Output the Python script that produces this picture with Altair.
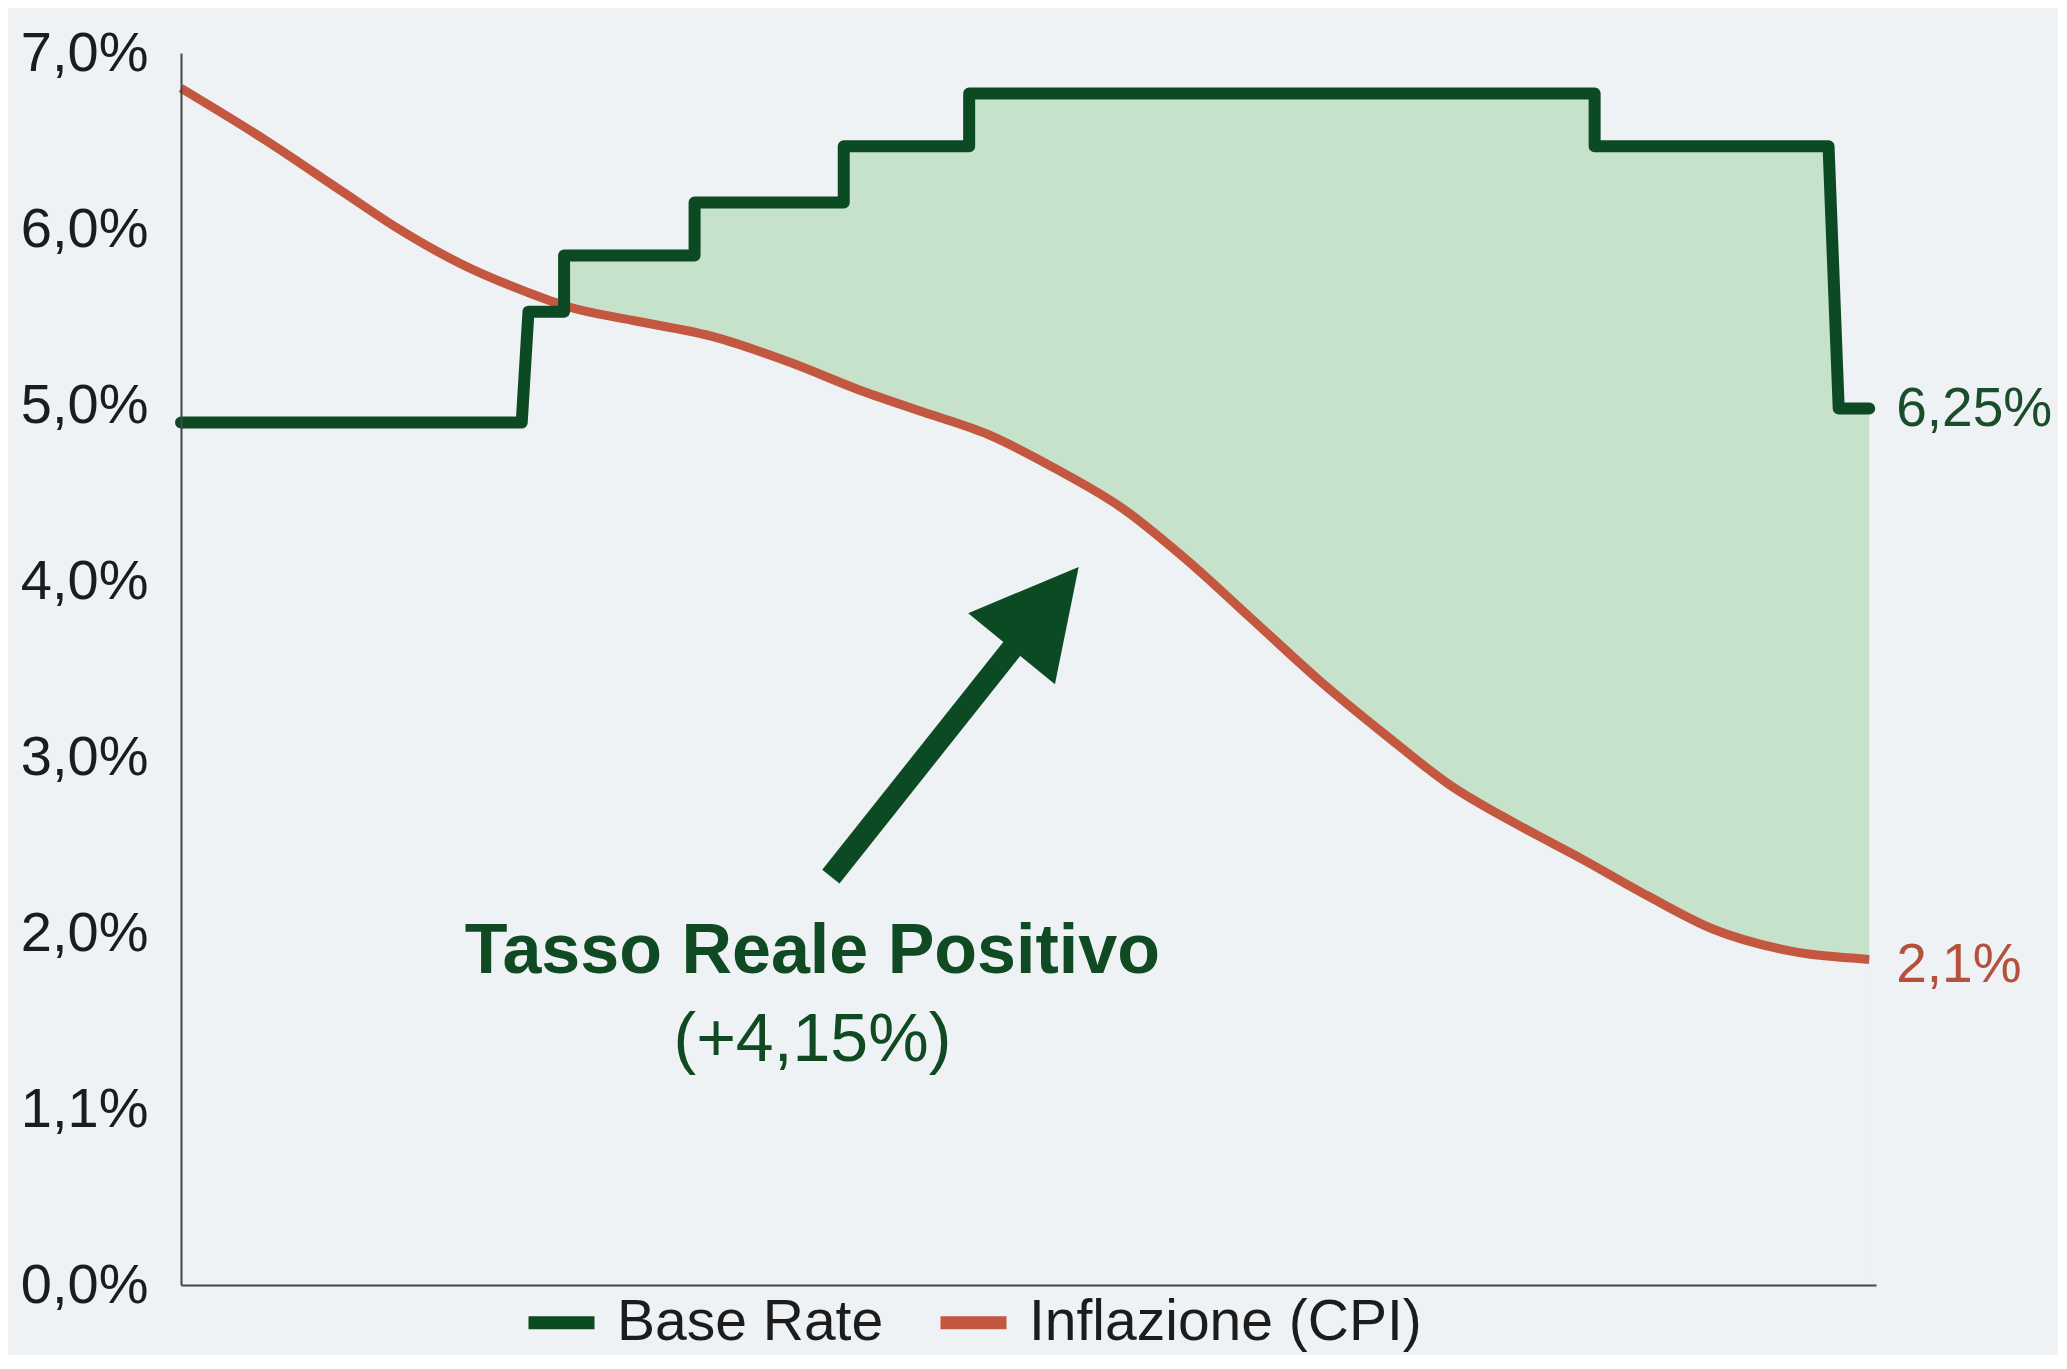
import math
import altair as alt
import pandas as pd

# ---------------- data ----------------
series_names = ["Base Rate", "Inflazione (CPI)"]

# Base rate step line vertices (x = period index 0..100, y = %)
base_x = [0, 20.1, 20.5, 22.6, 22.6, 30.3, 30.3, 39.1, 39.1, 46.5, 46.5, 83.4, 83.4, 97.2, 97.8, 99.6]
base_y = [4.90, 4.90, 5.53, 5.53, 5.85, 5.85, 6.15, 6.15, 6.47, 6.47, 6.77, 6.77, 6.47, 6.47, 4.98, 4.98]
fill_start = 4  # shaded real-rate area starts at this vertex

# Inflation (CPI) curve
cpi_x = [0, 4.9, 9.56, 12.68, 16.56, 20.45, 22.78, 26.67, 31.34, 36.0, 39.9, 43.78, 47.67,
         51.56, 55.44, 59.33, 63.22, 67.1, 71.0, 74.88, 78.77, 82.66, 86.55, 90.44, 94.32, 99.6]
cpi_y = [6.80, 6.51, 6.21, 6.01, 5.80, 5.64, 5.56, 5.48, 5.39, 5.24, 5.09, 4.96, 4.83,
         4.64, 4.42, 4.12, 3.78, 3.44, 3.13, 2.84, 2.62, 2.42, 2.21, 2.02, 1.91, 1.85]

y_ticks = [0, 1, 2, 3, 4, 5, 6, 7]
y_tick_labels = ["0,0%", "1,1%", "2,0%", "3,0%", "4,0%", "5,0%", "6,0%", "7,0%"]

end_labels = ["6,25%", "2,1%"]

annot_lines = ["Tasso Reale Positivo", "(+4,15%)"]
annot_x = [37.25, 37.25]
annot_y = [1.89, 1.385]

arrow_tail = [38.34, 2.32]
arrow_base = [49.0, 3.615]
arrow_tip = [52.96, 4.08]

# ---------------- styling ----------------
W, H = 1695, 1232
X_MAX, Y_MAX = 100, 7
BG = "#eef2f5"
GREEN = "#0c4a24"
RED = "#c4573f"
FILL = "#c6e2cb"
FONT = "Liberation Sans"

base_df = pd.DataFrame({"x": base_x, "y": base_y, "o": list(range(len(base_x))),
                        "series": series_names[0]})
fill_df = pd.DataFrame({"x": base_x[fill_start:], "y": base_y[fill_start:]})
cpi_df = pd.DataFrame({"x": cpi_x, "y": cpi_y, "series": series_names[1]})

xs = alt.Scale(domain=[0, X_MAX], nice=False, zero=False)
ys = alt.Scale(domain=[0, Y_MAX], nice=False)

label_js = "[" + ",".join("'%s'" % s for s in y_tick_labels) + "][datum.value]"

X = alt.X("x:Q", scale=xs, axis=alt.Axis(title=None, labels=False, ticks=False, grid=False,
                                          domain=True, domainColor="#444", domainWidth=2, zindex=1))
Y = alt.Y("y:Q", scale=ys, stack=None,
          axis=alt.Axis(title=None, values=y_ticks, labelExpr=label_js, ticks=False, grid=False,
                        domain=True, domainColor="#444", domainWidth=2, labelFontSize=56,
                        labelFont=FONT, labelColor="#1c1c1c", labelPadding=33, zindex=1))

color_enc = alt.Color("series:N",
                      scale=alt.Scale(domain=series_names, range=[GREEN, RED]),
                      legend=alt.Legend(orient="none", legendX=341, legendY=1230,
                                        direction="horizontal", title=None,
                                        symbolType="stroke", symbolStrokeWidth=13,
                                        symbolSize=4356, labelFontSize=57, labelFont=FONT,
                                        labelColor="#1c1c1c", labelOffset=16,
                                        columnPadding=30, padding=0, labelLimit=1000))

# shaded area under the base rate, then masked below the CPI curve with the background colour
fill = alt.Chart(fill_df).mark_area(color=FILL, opacity=1, orient="vertical").encode(
    x=X, y=Y, y2=alt.datum(0))
mask = alt.Chart(cpi_df).mark_area(color=BG, opacity=1, interpolate="monotone",
                                   orient="vertical").encode(
    x=X, y=Y, y2=alt.datum(0))
cpi_line = alt.Chart(cpi_df).mark_line(strokeWidth=9, interpolate="monotone").encode(
    x=X, y=Y, color=color_enc)
base_line = alt.Chart(base_df).mark_line(strokeWidth=12, strokeJoin="round", strokeCap="round").encode(
    x=X, y=Y, order=alt.Order("o:Q"), color=color_enc)

lab_base = alt.Chart(pd.DataFrame({"x": [base_x[-1]], "y": [base_y[-1]], "t": [end_labels[0]]})).mark_text(
    align="left", baseline="middle", dx=27, fontSize=55, font=FONT, color="#1b4d2a").encode(
    x=X, y=Y, text="t:N")
lab_cpi = alt.Chart(pd.DataFrame({"x": [cpi_x[-1]], "y": [cpi_y[-1]], "t": [end_labels[1]]})).mark_text(
    align="left", baseline="middle", dx=27, dy=6, fontSize=55, font=FONT, color="#b4503c").encode(
    x=X, y=Y, text="t:N")

# arrow
pxx, pxy = W / X_MAX, H / Y_MAX
ddx = (arrow_tip[0] - arrow_base[0]) * pxx
ddy = (arrow_tip[1] - arrow_base[1]) * pxy
angle = math.degrees(math.atan2(ddx, ddy))
head_len = math.hypot(ddx, ddy)
shaft_end = [arrow_base[0] + 0.15 * (arrow_tip[0] - arrow_base[0]),
             arrow_base[1] + 0.15 * (arrow_tip[1] - arrow_base[1])]
shaft = alt.Chart(pd.DataFrame({"x": [arrow_tail[0]], "y": [arrow_tail[1]],
                                "x2": [shaft_end[0]], "y2": [shaft_end[1]]})).mark_rule(
    color=GREEN, strokeWidth=22, strokeCap="butt").encode(x=X, y=Y, x2="x2:Q", y2="y2:Q")
head = alt.Chart(pd.DataFrame({"x": [arrow_base[0]], "y": [arrow_base[1]]})).mark_point(
    shape="M0,-1L-0.53,0L0.53,0Z", filled=True, opacity=1, color=GREEN, strokeWidth=0,
    size=(2 * head_len) ** 2, angle=angle).encode(x=X, y=Y)

t1 = alt.Chart(pd.DataFrame({"x": [annot_x[0]], "y": [annot_y[0]], "t": [annot_lines[0]]})).mark_text(
    align="center", baseline="middle", fontSize=70, font=FONT, fontWeight="bold", color="#0f4a22").encode(
    x=X, y=Y, text="t:N")
t2 = alt.Chart(pd.DataFrame({"x": [annot_x[1]], "y": [annot_y[1]], "t": [annot_lines[1]]})).mark_text(
    align="center", baseline="middle", fontSize=68, font=FONT, color="#0f4a22").encode(
    x=X, y=Y, text="t:N")

chart = alt.layer(fill, mask, cpi_line, base_line, lab_base, lab_cpi, shaft, head, t1, t2).properties(
    width=W, height=H,
    autosize=alt.AutoSizeParams(type="none"),
    padding={"left": 173, "top": 45, "right": 182, "bottom": 70},
    background=BG,
).configure_view(stroke=None)

chart.save("out.html", embed_options={"renderer": "svg", "actions": False})
